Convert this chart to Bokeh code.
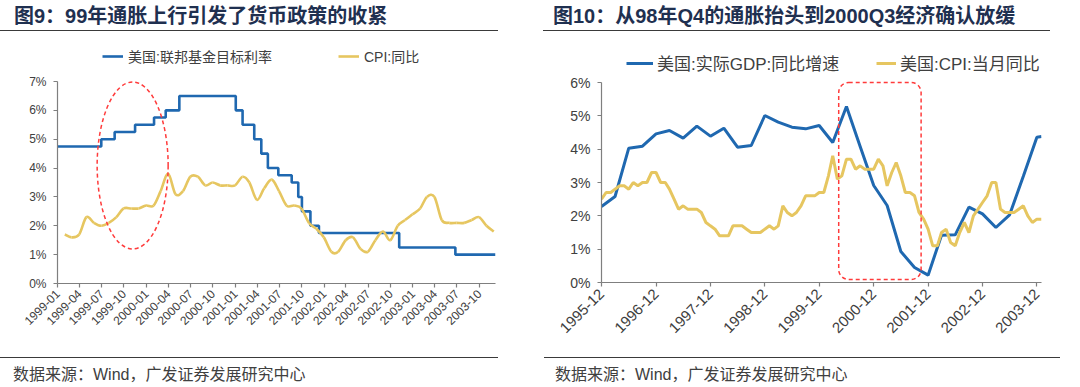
import pandas as pd
from math import pi
from bokeh.plotting import figure
from bokeh.models import (FixedTicker, DatetimeTickFormatter, Legend, LegendItem, Div,
                          BoxAnnotation, Range1d)
from bokeh.layouts import column, row
from bokeh.embed import file_html
from bokeh.resources import INLINE

# ---------------- data: left chart ----------------
ff_dates = ["1999-01-01", "1999-06-30", "1999-08-24", "1999-11-16", "2000-02-02", "2000-03-21",
            "2000-05-16", "2001-01-03", "2001-01-31", "2001-03-20", "2001-04-18", "2001-05-15",
            "2001-06-27", "2001-08-21", "2001-09-17", "2001-10-02", "2001-11-06", "2001-12-11",
            "2002-11-06", "2003-06-25", "2003-12-07"]
ff_rates = [4.75, 5.00, 5.25, 5.50, 5.75, 6.00,
            6.50, 6.00, 5.50, 5.00, 4.50, 4.00,
            3.75, 3.50, 3.00, 2.50, 2.00, 1.75,
            1.25, 1.00, 1.00]
cpi_left_start, cpi_left_end = "1999-01-01", "2003-11-01"
cpi_left = [1.7, 1.6, 1.7, 2.3, 2.1, 2.0, 2.1, 2.3, 2.6, 2.6, 2.6, 2.7,
            2.7, 3.2, 3.8, 3.1, 3.2, 3.7, 3.7, 3.4, 3.5, 3.4, 3.4, 3.4,
            3.7, 3.5, 2.9, 3.3, 3.6, 3.2, 2.7, 2.7, 2.6, 2.1, 1.9, 1.6,
            1.1, 1.1, 1.5, 1.6, 1.2, 1.1, 1.5, 1.8, 1.5, 2.0, 2.2, 2.4,
            2.6, 3.0, 3.0, 2.2, 2.1, 2.1, 2.1, 2.2, 2.3, 2.0, 1.8]
left_tick_start, left_tick_end = "1999-01-01", "2003-10-01"
left_yticks = [0, 1, 2, 3, 4, 5, 6, 7]

# ---------------- data: right chart ----------------
gdp_months = ["1995-12", "1996-03", "1996-06", "1996-09", "1996-12", "1997-03", "1997-06",
              "1997-09", "1997-12", "1998-03", "1998-06", "1998-09", "1998-12", "1999-03",
              "1999-06", "1999-09", "1999-12", "2000-03", "2000-06", "2000-09", "2000-12",
              "2001-03", "2001-06", "2001-09", "2001-12", "2002-03", "2002-06", "2002-09",
              "2002-12", "2003-03", "2003-06", "2003-09", "2003-12", "2004-01"]
gdp_values = [2.28, 2.58, 4.03, 4.09, 4.46, 4.56, 4.33,
              4.69, 4.39, 4.63, 4.06, 4.11, 5.01, 4.81,
              4.66, 4.61, 4.71, 4.20, 5.28, 4.08, 2.91,
              2.31, 0.93, 0.45, 0.22, 1.42, 1.43, 2.26,
              2.06, 1.65, 2.03, 3.19, 4.36, 4.38]
cpi_right_start, cpi_right_end = "1995-12-01", "2004-01-01"
cpi_right = [2.5,
             2.7, 2.7, 2.8, 2.9, 2.9, 2.8, 3.0, 2.9, 3.0, 3.0, 3.3, 3.3,
             3.0, 3.0, 2.8, 2.5, 2.2, 2.3, 2.2, 2.2, 2.2, 2.1, 1.8, 1.7,
             1.6, 1.4, 1.4, 1.4, 1.7, 1.7, 1.7, 1.6, 1.5, 1.5, 1.5, 1.6,
             1.7, 1.6, 1.7, 2.3, 2.1, 2.0, 2.1, 2.3, 2.6, 2.6, 2.6, 2.7,
             2.7, 3.2, 3.8, 3.1, 3.2, 3.7, 3.7, 3.4, 3.5, 3.4, 3.4, 3.4,
             3.7, 3.5, 2.9, 3.3, 3.6, 3.2, 2.7, 2.7, 2.6, 2.1, 1.9, 1.6,
             1.1, 1.1, 1.5, 1.6, 1.2, 1.1, 1.5, 1.8, 1.5, 2.0, 2.2, 2.4,
             2.6, 3.0, 3.0, 2.2, 2.1, 2.1, 2.1, 2.2, 2.3, 2.0, 1.8, 1.9,
             1.9]
right_tick_start, right_tick_end = "1995-12-01", "2003-12-01"
right_yticks = [0, 1, 2, 3, 4, 5, 6]

TITLE_L = "图9：99年通胀上行引发了货币政策的收紧"
TITLE_R = "图10：从98年Q4的通胀抬头到2000Q3经济确认放缓"
SOURCE = "数据来源：Wind，广发证券发展研究中心"
LEG_FF = "美国:联邦基金目标利率"
LEG_CPI_L = "CPI:同比"
LEG_GDP = "美国:实际GDP:同比增速"
LEG_CPI_R = "美国:CPI:当月同比"

# ---------------- styles ----------------
BLUE = "#1F68B0"
GOLD = "#E6C660"
RED = "#FF3B3B"
AXIS = "#7F7F7F"
LBL = "#404040"
FONT = "'Liberation Sans', 'Noto Sans CJK SC', sans-serif"


def ms(s):
    return pd.Timestamp(s).timestamp() * 1000.0


def style_axes(p, ysize, xsize, yticks):
    p.grid.visible = False
    p.outline_line_color = None
    p.background_fill_color = "white"
    p.border_fill_color = "white"
    for ax in (p.xaxis[0], p.yaxis[0]):
        ax.axis_line_color = AXIS
        ax.axis_line_width = 1.2
        ax.major_tick_line_color = AXIS
        ax.major_tick_line_width = 1.2
        ax.minor_tick_line_color = None
        ax.major_tick_in = 0
        ax.major_tick_out = 4
        ax.major_label_text_color = LBL
        ax.major_label_text_font = "Liberation Sans"
    p.yaxis[0].major_label_text_font_size = ysize
    p.xaxis[0].major_label_text_font_size = xsize
    p.yaxis[0].ticker = FixedTicker(ticks=yticks)
    p.yaxis[0].bounds = (yticks[0], yticks[-1])
    p.yaxis[0].major_label_overrides = {t: f"{t}%" for t in yticks}
    p.xaxis[0].major_label_orientation = pi / 4
    p.xaxis[0].formatter = DatetimeTickFormatter(
        years="%Y-%m", months="%Y-%m", days="%Y-%m", hours="%Y-%m", context=None)


def style_legend(lg, gw, gh, size):
    lg.padding = 0
    lg.margin = 0
    lg.glyph_width = gw
    lg.glyph_height = gh
    lg.label_height = gh
    lg.label_standoff = 4
    lg.border_line_color = None
    lg.background_fill_alpha = 0
    lg.label_text_font = FONT
    lg.label_text_font_size = size
    lg.label_text_color = LBL
    lg.label_text_baseline = "middle"


# ---------------- left figure ----------------
# frame reaches up to the legend row; the axis itself stops at 7%
L_TOP_PX, L_PLOT_PX = 238, 202
pL = figure(x_axis_type="datetime", frame_width=438, frame_height=L_TOP_PX,
            min_border_left=57, min_border_right=45, min_border_top=14, min_border_bottom=72,
            x_range=Range1d(ms("1999-01-01"), ms("2003-12-07")),
            y_range=Range1d(0, 7 * L_TOP_PX / L_PLOT_PX),
            output_backend="svg", toolbar_location=None)
style_axes(pL, "12px", "12px", left_yticks)
pL.yaxis[0].major_label_standoff = 7
pL.xaxis[0].ticker = FixedTicker(
    ticks=[ms(d) for d in pd.date_range(left_tick_start, left_tick_end, freq="3MS")])
pL.xaxis[0].major_label_standoff = 4

ff_x = [ms(d) for d in ff_dates]
r_ff = pL.step(x=ff_x, y=ff_rates, mode="after", line_color=BLUE, line_width=2.6)

cl_x = [ms(d) for d in (pd.date_range(cpi_left_start, cpi_left_end, freq="MS") + pd.offsets.MonthEnd(0))]
n = len(cl_x)
x0, y0, x1, y1, cx0, cy0, cx1, cy1 = [], [], [], [], [], [], [], []
for i in range(n - 1):
    a = max(i - 1, 0)
    b = min(i + 2, n - 1)
    x0.append(cl_x[i]); y0.append(cpi_left[i])
    x1.append(cl_x[i + 1]); y1.append(cpi_left[i + 1])
    cx0.append(cl_x[i] + (cl_x[i + 1] - cl_x[a]) / 6.0)
    cy0.append(cpi_left[i] + (cpi_left[i + 1] - cpi_left[a]) / 6.0)
    cx1.append(cl_x[i + 1] - (cl_x[b] - cl_x[i]) / 6.0)
    cy1.append(cpi_left[i + 1] - (cpi_left[b] - cpi_left[i]) / 6.0)
r_cl = pL.bezier(x0=x0, y0=y0, x1=x1, y1=y1, cx0=cx0, cy0=cy0, cx1=cx1, cy1=cy1,
                 line_color=GOLD, line_width=2.6)

pL.ellipse(x=[ms("1999-11-06")], y=[4.09], width=71, height=167,
           width_units="screen", height_units="screen",
           fill_color=None, line_color=RED, line_width=1.5, line_dash="4 3")

legL1 = Legend(items=[LegendItem(label=LEG_FF, renderers=[r_ff])], location=(45, 217))
legL2 = Legend(items=[LegendItem(label=LEG_CPI_L, renderers=[r_cl])], location=(281, 217))
for lg in (legL1, legL2):
    style_legend(lg, 21, 14, "14px")
    lg.label_standoff = 5
    pL.add_layout(lg)

# ---------------- right figure ----------------
R_TOP_PX, R_PLOT_PX = 237, 200
pR = figure(x_axis_type="datetime", frame_width=440, frame_height=R_TOP_PX,
            min_border_left=61, min_border_right=39, min_border_top=14, min_border_bottom=73,
            x_range=Range1d(ms("1995-12-01"), ms("2004-01-01")),
            y_range=Range1d(0, 6 * R_TOP_PX / R_PLOT_PX),
            output_backend="svg", toolbar_location=None)
style_axes(pR, "14px", "15px", right_yticks)
pR.xaxis[0].ticker = FixedTicker(
    ticks=[ms(d) for d in pd.date_range(right_tick_start, right_tick_end, freq="12MS")])
pR.xaxis[0].major_label_standoff = 5
pR.yaxis[0].major_label_standoff = 7

g_x = [ms(m + "-01") for m in gdp_months]
r_gdp = pR.line(x=g_x, y=gdp_values, line_color=BLUE, line_width=3)
cr_x = [ms(d) for d in pd.date_range(cpi_right_start, cpi_right_end, freq="MS")]
r_cr = pR.line(x=cr_x, y=cpi_right, line_color=GOLD, line_width=3)

pR.add_layout(BoxAnnotation(left=ms("2000-04-10"), right=ms("2001-10-15"), top=6.0, bottom=0.09,
                            fill_color=None, fill_alpha=0, line_color=RED, line_alpha=1.0,
                            line_width=1.5, line_dash="4 3", border_radius=10))

legR1 = Legend(items=[LegendItem(label=LEG_GDP, renderers=[r_gdp])], location=(25, 207))
legR2 = Legend(items=[LegendItem(label=LEG_CPI_R, renderers=[r_cr])], location=(275, 207))
for lg, gw in ((legR1, 27), (legR2, 20)):
    style_legend(lg, gw, 16, "17px")
    pR.add_layout(lg)


# ---------------- titles / footers ----------------
def title_div(txt, ml, pl, w):
    html = (f'<div style="margin-left:{ml}px;width:{w}px;padding-left:{pl}px;box-sizing:border-box;'
            f'height:31px;padding-top:5px;border-bottom:1.5px solid #3A3A3A;font-family:{FONT};'
            f'font-weight:bold;font-size:20px;line-height:22px;color:#1F3050;white-space:nowrap;">{txt}</div>')
    return Div(text=html, width=540, height=31, margin=0)


def foot_div(txt, ml, pl, w):
    html = (f'<div style="margin-left:{ml}px;width:{w}px;padding-left:{pl}px;box-sizing:border-box;'
            f'margin-top:2px;padding-top:7px;border-top:1.5px solid #3A3A3A;font-family:{FONT};'
            f'font-size:16px;line-height:20px;color:#404040;white-space:nowrap;">{txt}</div>')
    return Div(text=html, width=540, height=32, margin=0)


layout = column(
    row(title_div(TITLE_L, 0, 14, 498), title_div(TITLE_R, 3, 10, 507), spacing=0),
    row(pL, pR, spacing=0),
    row(foot_div(SOURCE, 0, 13, 498), foot_div(SOURCE, 4, 11, 516), spacing=0),
    spacing=0)

open("out.html", "w").write(file_html(layout, INLINE))
